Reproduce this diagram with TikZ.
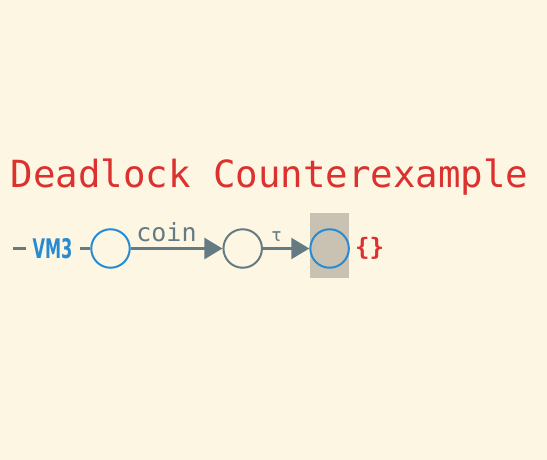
\documentclass[tikz,border=0pt]{standalone}
\usepackage{fontspec}
\usepackage{graphicx}
\newfontfamily\monof{DejaVu Sans Mono}
\newfontfamily\sansf{DejaVu Sans}
\usetikzlibrary{arrows.meta}
\definecolor{bgc}{HTML}{FDF6E3}
\definecolor{redc}{HTML}{DC322F}
\definecolor{bluec}{HTML}{268BD2}
\definecolor{grayc}{HTML}{657B83}
\definecolor{hlc}{HTML}{C9C2B3}
\tikzset{
  state/.style={circle, minimum size=38.5pt, inner sep=0pt, line width=2pt},
  edge/.style={draw=grayc, line width=2.2pt},
  arr/.style={edge, -{Triangle[length=18pt,width=21pt]}},
  lbl/.style={text=grayc, inner sep=0pt, anchor=base, font=\monof}
}
\begin{document}
\begin{tikzpicture}[x=1pt,y=-1pt]
\useasboundingbox[fill=bgc] (0,0) rectangle (547,460);
\node[anchor=base, text=redc, inner sep=0pt, font=\monof\fontsize{37.4}{40}\selectfont] (title) at (269.5,187) {Deadlock Counterexample};
\fill[hlc] (310,213) rectangle (349,278);
\node[state, draw=bluec] (c1) at (110.5,248.5) {};
\node[state, draw=grayc] (c2) at (242.7,248.5) {};
\node[state, draw=bluec] (c3) at (329.6,248.5) {};
\node[anchor=base, text=bluec, inner sep=0pt, font=\sansf\bfseries\fontsize{27}{30}\selectfont] (vm) at (52.5,258.3) {\scalebox{0.6}[1]{VM3}};
\coordinate (d1) at (13,248.5);
\coordinate (d2) at (26,248.5);
\coordinate (v1) at (80,248.5);
\draw[edge] (d1) -- (d2);
\draw[edge] (v1) -- (c1);
\draw[arr] (c1) -- (c2);
\draw[arr] (c2) -- (c3);
\node[lbl, font=\monof\fontsize{25}{27}\selectfont] (l1) at (166.5,241) {coin};
\node[lbl, font=\monof\fontsize{18}{20}\selectfont] (l2) at (276.5,241) {τ};
\node[anchor=west, text=redc, inner sep=0pt, font=\monof\bfseries\fontsize{24}{26}\selectfont] (set) at (355,248.5) {\{\}};
\end{tikzpicture}
\end{document}
